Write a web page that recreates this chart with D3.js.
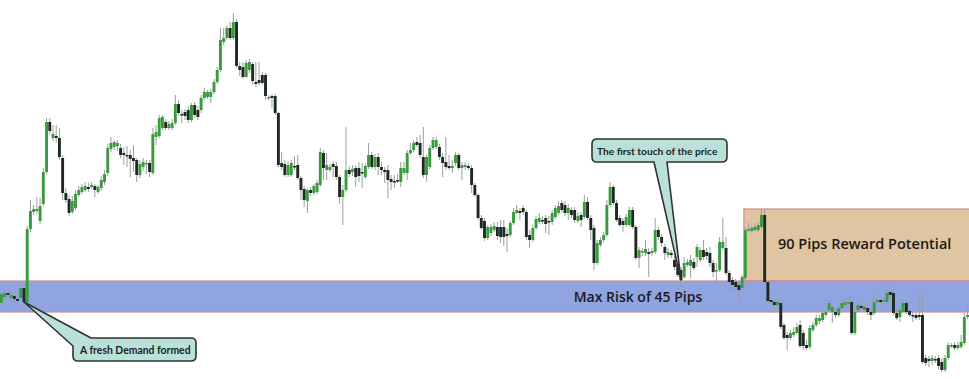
<!DOCTYPE html>
<html>
<head>
<meta charset="utf-8">
<script src="https://cdn.jsdelivr.net/npm/d3@7"></script>
<style>
body { margin: 0; background: #fff; }
svg { display: block; }
</style>
</head>
<body>
<svg id="chart" width="969" height="379"></svg>
<script>
// candle prices (arbitrary price units)
var opens = [
97,103,107,102,104,101,102,112,98,171,188,189,179,196,228,278,262,264,262,242,
207,201,188,192,205,208,210,213,213,214,208,212,218,227,251,253,254,252,247,245,
245,242,240,225,233,237,237,227,263,264,272,278,272,272,277,296,286,288,290,280,
295,290,290,302,303,303,308,318,330,358,362,372,362,378,334,333,323,330,336,318,
320,325,325,302,304,304,287,237,236,225,225,234,235,222,211,199,210,207,208,215,
247,230,230,236,234,223,203,210,230,228,232,232,228,223,233,245,233,243,233,230,
230,221,219,220,218,227,227,247,250,258,257,243,225,233,252,253,
253,243,238,234,232,237,245,232,233,234,232,215,205,182,179,162,167,170,173,173,
173,166,165,177,187,189,
192,188,165,160,172,178,180,182,179,178,183,187,197,195,187,190,190,179,185,183,
198,182,172,137,155,160,165,195,213,197,182,179,175,175,190,173,142,148,147,148,
147,148,170,163,153,145,147,140,136,130,123,135,134,138,143,140,150,148,147,137,
129,130,152,152,127,120,118,115,112,122,170,169,170,170,173,185,118,100,98,95,
97,75,
65,62,65,67,75,67,55,53,70,75,79,80,85,90,88,88,85,92,95,98,
98,67,90,94,90,92,88,87,98,100,99,98,108,107,87,83,88,97,89,85,
85,85,85,42,41,39,41,42,38,30,42,54,55,52,53,57,83
];
var closes = [
106,107,105,105,101,99,112,98,171,189,191,191,194,228,278,269,266,262,243,207,
200,187,199,206,210,213,214,211,215,210,213,220,226,252,257,258,257,245,245,244,
241,239,225,236,238,237,228,266,268,282,283,272,276,277,296,287,285,284,280,295,
285,283,302,308,308,308,318,330,360,362,372,362,378,334,330,323,337,338,319,316,
317,317,304,303,302,287,235,233,225,235,237,233,222,210,200,210,207,214,217,248,
232,235,233,233,223,203,210,230,226,231,223,224,227,234,245,233,243,233,230,228,
220,218,218,219,232,232,247,250,257,255,245,225,243,252,260,260,
243,237,233,232,234,245,232,235,235,232,215,205,182,172,162,173,173,174,164,163,
163,164,177,188,190,187,
188,163,160,172,181,182,179,176,178,187,192,194,190,187,192,185,180,184,180,198,
182,170,137,157,160,165,195,213,197,180,175,175,183,190,173,142,150,149,151,146,
149,170,163,157,147,148,145,133,125,120,137,138,140,132,153,150,143,144,137,128,
130,158,158,127,118,115,113,110,123,170,171,172,173,175,185,118,99,98,95,98,
73,62,
62,67,68,73,54,54,52,72,75,82,82,87,88,97,93,85,92,97,98,98,
67,88,95,92,93,88,85,98,100,98,100,107,105,87,82,90,97,88,85,84,
82,83,38,37,39,42,40,34,30,42,55,55,52,55,58,83,85
];
var highs = [
110,111,110,108,107,106,117,117,174,200,195,203,202,232,282,282,275,275,272,245,
212,205,204,210,214,216,218,217,218,216,215,224,230,256,263,260,260,256,253,254,
250,255,242,240,242,240,240,272,275,285,285,281,279,281,305,300,290,291,294,297,
298,294,305,312,310,311,321,333,372,372,375,378,387,381,338,338,340,341,338,338,
338,328,327,305,306,306,288,248,240,239,240,244,245,224,214,212,213,216,220,252,
250,247,236,239,238,225,215,273,234,235,235,238,237,236,257,248,246,247,238,233,
235,225,225,226,238,238,250,257,260,263,265,273,245,255,263,263,
256,247,263,245,240,248,247,238,238,237,235,217,207,185,182,175,176,178,178,180,
180,172,179,192,195,192,
195,190,170,175,184,187,184,185,184,190,195,199,200,199,196,193,193,188,188,205,
203,185,175,160,163,168,200,218,215,200,185,182,186,193,193,175,153,152,160,152,
152,182,173,166,156,152,150,144,140,133,143,141,145,142,156,153,160,152,153,140,
137,163,182,163,130,123,121,119,125,173,177,175,177,178,191,190,120,103,100,100,
100,77,
68,70,73,77,80,70,60,75,78,85,85,90,91,100,95,92,95,105,102,103,
100,92,98,97,96,95,92,107,103,103,103,113,113,117,90,93,100,100,91,88,
88,107,107,45,44,45,44,45,42,45,58,57,58,58,65,87,98
];
var lows = [
94,100,102,100,96,94,100,90,95,168,185,186,176,194,226,266,259,257,240,200,
197,184,186,190,203,206,208,208,211,203,206,209,215,224,248,250,249,242,235,233,
223,228,218,222,229,226,223,225,255,262,270,270,270,270,275,284,277,280,277,278,
282,280,287,300,301,297,306,316,328,355,360,360,360,332,324,321,322,327,315,313,
315,315,300,300,292,285,233,230,223,223,223,230,220,200,193,187,204,205,206,213,
220,220,228,223,220,196,175,208,223,224,213,218,212,221,231,231,230,225,225,217,
202,210,212,217,213,225,220,245,248,253,242,222,218,231,250,251,
240,223,230,230,227,234,230,220,230,230,207,203,180,170,159,160,164,168,160,157,
154,148,163,175,186,180,
185,160,152,158,170,176,176,167,165,175,181,185,187,184,180,182,177,177,173,181,
180,160,130,135,153,158,163,193,195,178,173,168,173,173,171,140,132,144,144,123,
144,146,160,153,140,142,142,130,123,113,121,133,122,130,133,138,140,140,133,123,
118,128,150,125,110,110,107,97,110,120,168,167,169,168,171,116,97,96,87,92,
71,60,
50,60,63,66,52,50,50,51,68,73,76,78,83,88,77,82,83,90,93,95,
65,65,88,90,88,85,80,85,97,95,97,96,103,85,80,78,87,86,83,78,
80,80,36,34,33,35,37,30,28,28,40,52,50,50,51,55,81
];

// zones: first candle, top and bottom price, label
var zoneFrom = [0, 231];
var zoneTop = [119, 191];
var zoneBottom = [88, 119];
var zoneLabels = ["Max Risk of 45 Pips", "90 Pips Reward Potential"];

// callouts: the candle they point at
var calloutText = ["A fresh Demand formed", "The first touch of the price"];
var calloutCandle = [7, 211];

var W = 969, H = 379;
var n = closes.length;

var x = d3.scaleBand().domain(d3.range(n)).range([0, W]).paddingInner(0.1);
var y = d3.scaleLinear().domain([21, 400]).range([H, 0]);
var bw = x.bandwidth();

var svg = d3.select("#chart");

// zones
var zoneFill = ["#8fa4e0", "#dfc5a1"];
svg.append("g").selectAll("rect")
	.data(d3.range(zoneFrom.length).reverse())
	.join("rect")
	.attr("x", function(i) { return i == 0 ? -2 : x(zoneFrom[i]); })
	.attr("y", function(i) { return y(zoneTop[i]); })
	.attr("width", function(i) { return W + 4 - (i == 0 ? -2 : x(zoneFrom[i])); })
	.attr("height", function(i) { return y(zoneBottom[i]) - y(zoneTop[i]); })
	.attr("fill", function(i) { return zoneFill[i]; })
	.attr("stroke", "#d68a86").attr("stroke-width", 1.2);

// candles
var candles = svg.append("g").selectAll("g")
	.data(d3.range(n))
	.join("g");

candles.append("line")
	.attr("x1", function(i) { return x(i) + bw / 2; })
	.attr("x2", function(i) { return x(i) + bw / 2; })
	.attr("y1", function(i) { return y(highs[i]); })
	.attr("y2", function(i) { return y(lows[i]); })
	.attr("stroke", "#9c9ea0").attr("stroke-width", 1);

candles.append("rect")
	.attr("x", function(i) { return x(i); })
	.attr("y", function(i) { return y(Math.max(opens[i], closes[i])); })
	.attr("width", bw)
	.attr("height", function(i) { return Math.max(1.5, Math.abs(y(opens[i]) - y(closes[i]))); })
	.attr("fill", function(i) { return closes[i] >= opens[i] ? "#3a9a3e" : "#1c2a22"; });

// zone labels
svg.append("text")
	.attr("x", 638).attr("y", 302)
	.attr("text-anchor", "middle")
	.attr("font-family", "Open Sans").attr("font-size", "14px").attr("font-weight", 600)
	.attr("fill", "#1a1a1a")
	.text(zoneLabels[0]);
svg.append("text")
	.attr("x", 778).attr("y", 249)
	.attr("font-family", "Open Sans").attr("font-size", "14.5px").attr("font-weight", 600)
	.attr("fill", "#1a1a1a")
	.text(zoneLabels[1]);

// callouts
function box(x0, y0, x1, y1, r) {
	return { x0: x0, y0: y0, x1: x1, y1: y1, r: r };
}
var b1 = box(73, 338, 196, 361, 5);
var t1x = x(calloutCandle[0]) + bw / 2, t1y = y(closes[calloutCandle[0]]);
var p1 = "M 91," + b1.y0 + " H " + (b1.x1 - b1.r) + " Q " + b1.x1 + "," + b1.y0 + " " + b1.x1 + "," + (b1.y0 + b1.r)
	+ " V " + (b1.y1 - b1.r) + " Q " + b1.x1 + "," + b1.y1 + " " + (b1.x1 - b1.r) + "," + b1.y1
	+ " H " + (b1.x0 + b1.r) + " Q " + b1.x0 + "," + b1.y1 + " " + b1.x0 + "," + (b1.y1 - b1.r)
	+ " V 346 L " + t1x + "," + t1y + " Z";

var b2 = box(592, 139, 727, 162, 5);
var t2x = x(calloutCandle[1]) + bw / 2, t2y = y(closes[calloutCandle[1]]);
var p2 = "M " + (b2.x0 + b2.r) + "," + b2.y0 + " H " + (b2.x1 - b2.r) + " Q " + b2.x1 + "," + b2.y0 + " " + b2.x1 + "," + (b2.y0 + b2.r)
	+ " V " + (b2.y1 - b2.r) + " Q " + b2.x1 + "," + b2.y1 + " " + (b2.x1 - b2.r) + "," + b2.y1
	+ " H 667 L " + t2x + "," + t2y + " L 654," + b2.y1
	+ " H " + (b2.x0 + b2.r) + " Q " + b2.x0 + "," + b2.y1 + " " + b2.x0 + "," + (b2.y1 - b2.r)
	+ " V " + (b2.y0 + b2.r) + " Q " + b2.x0 + "," + b2.y0 + " " + (b2.x0 + b2.r) + "," + b2.y0 + " Z";

svg.selectAll("path.callout")
	.data([p1, p2])
	.join("path")
	.attr("class", "callout")
	.attr("d", function(d) { return d; })
	.attr("fill", "#b9e1da")
	.attr("stroke", "#2f3432").attr("stroke-width", 1.6)
	.attr("stroke-linejoin", "round");

svg.append("text")
	.attr("x", 80).attr("y", 353.5)
	.attr("font-family", "Lato").attr("font-size", "10.4px").attr("font-weight", 700)
	.attr("fill", "#1f2220")
	.text(calloutText[0]);
svg.append("text")
	.attr("x", 597).attr("y", 154.5)
	.attr("font-family", "Lato").attr("font-size", "10.2px").attr("font-weight", 700)
	.attr("fill", "#1f2220")
	.text(calloutText[1]);
</script>
</body>
</html>
